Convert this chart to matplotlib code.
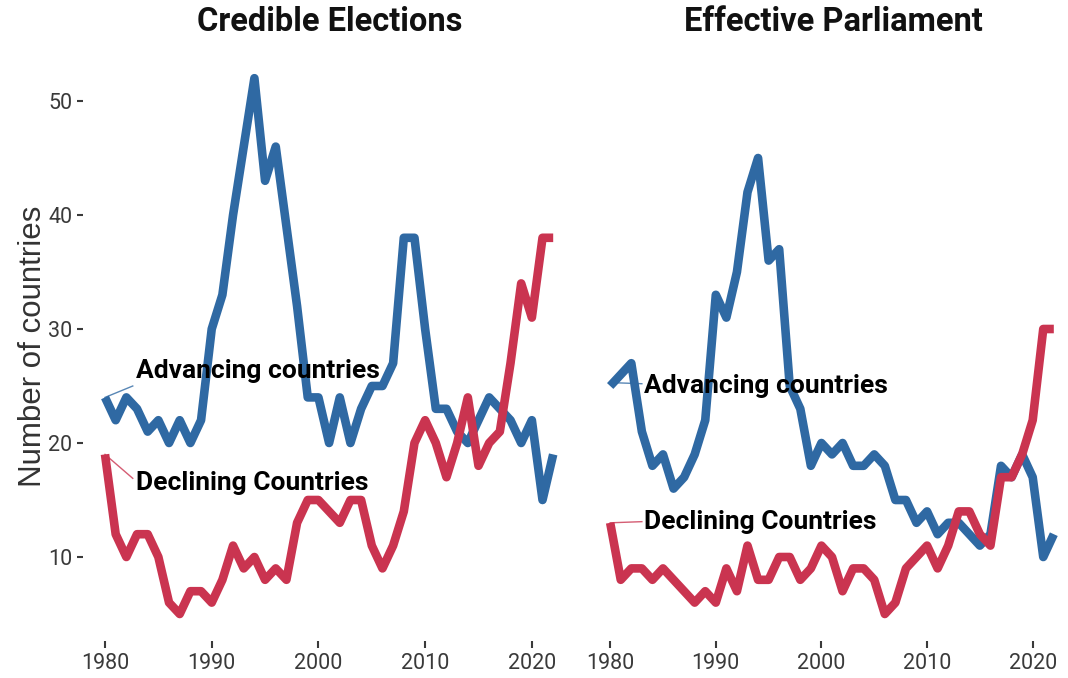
import matplotlib
matplotlib.use("Agg")
import matplotlib.pyplot as plt
import numpy as np

years = list(range(1980, 2023))

# Credible Elections
ce_advancing = [24, 22, 24, 23, 21, 22, 20, 22, 20, 22,
                30, 33, 40, 46, 52, 43, 46, 39, 32, 24,
                24, 20, 24, 20, 23, 25, 25, 27, 38, 38,
                30, 23, 23, 21, 20, 22, 24, 23, 22, 20,
                22, 15, 19]
ce_declining = [19, 12, 10, 12, 12, 10, 6, 5, 7, 7,
                6, 8, 11, 9, 10, 8, 9, 8, 13, 15,
                15, 14, 13, 15, 15, 11, 9, 11, 14, 20,
                22, 20, 17, 20, 24, 18, 20, 21, 27, 34,
                31, 38, 38]

# Effective Parliament
pe_advancing = [25, 26, 27, 21, 18, 19, 16, 17, 19, 22,
                33, 31, 35, 42, 45, 36, 37, 25, 23, 18,
                20, 19, 20, 18, 18, 19, 18, 15, 15, 13,
                14, 12, 13, 13, 12, 11, 12, 18, 17, 19,
                17, 10, 12]
pe_declining = [13, 8, 9, 9, 8, 9, 8, 7, 6, 7,
                6, 9, 7, 11, 8, 8, 10, 10, 8, 9,
                11, 10, 7, 9, 9, 8, 5, 6, 9, 10,
                11, 9, 11, 14, 14, 12, 11, 17, 17, 19,
                22, 30, 30]

titles = ["Credible Elections", "Effective Parliament"]
label_adv = "Advancing countries"
label_dec = "Declining Countries"
y_ticks = [10, 20, 30, 40, 50]
x_ticks = [1980, 1990, 2000, 2010, 2020]

BLUE = "#2F69A3"
RED = "#CA3450"
TICKC = "#3A3A3A"
NARROW = ["Roboto", "DejaVu Sans"]
REG = ["Liberation Sans", "DejaVu Sans"]

W, H = 1068, 678
fig = plt.figure(figsize=(W / 100, H / 100), dpi=100)
fig.patch.set_facecolor("white")

xlim = (1977.9, 2024.1)
ylim = (2.65, 54.35)
bottom = (H - 640.8) / H
height = 589.4 / H
ax1 = fig.add_axes([82.6 / W, bottom, 493.0 / W, height])
ax2 = fig.add_axes([588.0 / W, bottom, 488.0 / W, height])

panels = [
    (ax1, ce_advancing, ce_declining,
     dict(adv_seg=((1980, 24), (1982.6, 25.0)), adv_txt=(1982.9, 26.3),
          dec_seg=((1980, 19), (1982.6, 16.9)), dec_txt=(1982.9, 16.5))),
    (ax2, pe_advancing, pe_declining,
     dict(adv_seg=((1980, 25.3), (1983.0, 25.2)), adv_txt=(1983.2, 25.0),
          dec_seg=((1980, 13.0), (1983.0, 13.1)), dec_txt=(1983.2, 13.1))),
]

for i, (ax, adv, dec, ann) in enumerate(panels):
    ax.plot(years, adv, color=BLUE, lw=6.2, solid_joinstyle="round",
            solid_capstyle="butt", zorder=3)
    ax.plot(years, dec, color=RED, lw=6.2, solid_joinstyle="round",
            solid_capstyle="butt", zorder=3)
    (x0, y0), (x1, y1) = ann["adv_seg"]
    ax.plot([x0, x1], [y0, y1], color=BLUE, lw=1.0, alpha=0.8, zorder=2)
    (x0, y0), (x1, y1) = ann["dec_seg"]
    ax.plot([x0, x1], [y0, y1], color=RED, lw=1.0, alpha=0.8, zorder=2)
    ax.text(*ann["adv_txt"], label_adv, family=NARROW, fontweight="bold",
            fontsize=19, color="black", ha="left", va="center", zorder=4)
    ax.text(*ann["dec_txt"], label_dec, family=NARROW, fontweight="bold",
            fontsize=19, color="black", ha="left", va="center", zorder=4)

    ax.set_xlim(*xlim)
    ax.set_ylim(*ylim)
    for s in ax.spines.values():
        s.set_visible(False)
    ax.set_xticks(x_ticks)
    ax.set_xticklabels([str(t) for t in x_ticks], family=NARROW, fontsize=15.5,
                       color=TICKC)
    ax.tick_params(axis="x", direction="out", length=5, width=1.5,
                   color=TICKC, pad=3.5)
    if i == 0:
        ax.set_yticks(y_ticks)
        ax.set_yticklabels([str(t) for t in y_ticks], family=NARROW,
                           fontsize=15.5, color=TICKC)
        ax.tick_params(axis="y", direction="out", length=4.3, width=1.5,
                       color=TICKC, pad=3)
    else:
        ax.set_yticks([])
    ax.set_facecolor("white")

fig.text(330 / W, 1 - 22 / H, titles[0], family=NARROW, fontweight="bold",
         fontsize=23.5, color="#111111", ha="center", va="center")
fig.text(833 / W, 1 - 22 / H, titles[1], family=NARROW, fontweight="bold",
         fontsize=23.5, color="#111111", ha="center", va="center")
fig.text(33 / W, 1 - 346.5 / H, "Number of countries", family=REG,
         fontsize=22.5, color="#333333", rotation=90, ha="center", va="center")

fig.savefig("out.png", dpi=100, facecolor="white")
